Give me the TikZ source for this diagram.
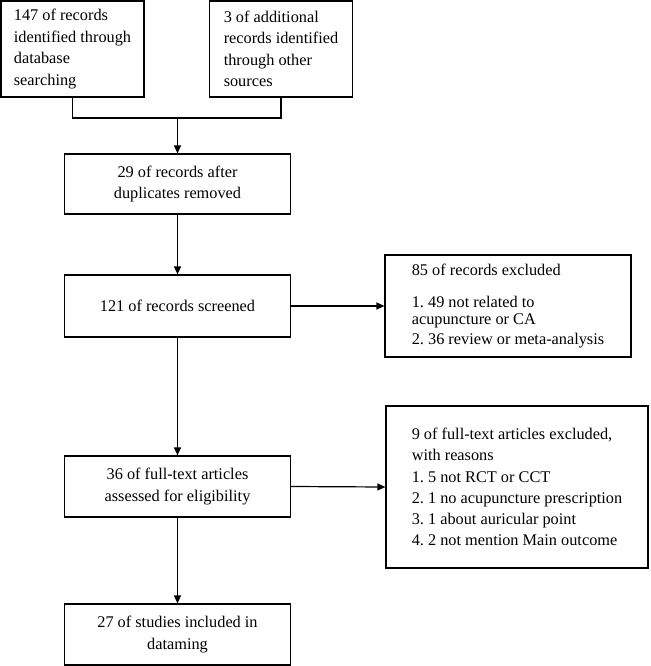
\documentclass[tikz,border=0pt]{standalone}
\usepackage{fontspec}
\setmainfont{Liberation Serif}
\usetikzlibrary{arrows.meta}
\frenchspacing
\begin{document}
\begin{tikzpicture}[x=1pt,y=-1pt,
  box/.style={draw, line width=1.2pt, inner sep=0pt, font=\fontsize{16.3}{21.5}\selectfont},
  lbox/.style={box, align=left},
  cbox/.style={box, align=center, minimum width=226pt},
  arr/.style={line width=1.2pt, -{Triangle[length=8pt,width=7pt]}},
  ln/.style={line width=1.2pt}]
\useasboundingbox (0,0) rectangle (650,666);
\node[lbox, minimum width=143pt, minimum height=96pt] (A) at (72.5,49)
  {147 of records\\identified through\\database\\searching};
\node[lbox, minimum width=143pt, minimum height=96pt] (B) at (281,49)
  {3 of additional\\records identified\\through other\\sources};
\node[cbox, minimum height=60pt] (C) at (177.5,184)
  {29 of records after\\duplicates removed};
\node[cbox, minimum height=62pt] (D) at (177.5,306)
  {121 of records screened};
\node[lbox, minimum width=246pt, minimum height=102pt, font=\fontsize{16.3}{17}\selectfont] (E) at (508,306)
  {85 of records excluded\\[15pt]1. 49 not related to\\acupuncture or CA\\[3pt]2. 36 review or meta-analysis};
\node[cbox, minimum height=61pt] (F) at (177.5,486.5)
  {36 of full-text articles\\assessed for eligibility};
\node[lbox, minimum width=262pt, minimum height=162pt, font=\fontsize{16.3}{21.2}\selectfont] (G) at (517,487)
  {9 of full-text articles excluded,\\with reasons\\1. 5 not RCT or CCT\\2. 1 no acupuncture prescription\\3. 1 about auricular point\\4. 2 not mention Main outcome};
\node[cbox, minimum height=61pt] (H) at (177.5,634.5)
  {27 of studies included in\\dataming};
\coordinate (J) at (177.5,118);
\draw[ln] (A.south) |- (J) -| (B.south);
\draw[arr] (J) -- (C.north);
\draw[arr] (C.south) -- (D.north);
\draw[arr] (D.east) -- (E.west);
\draw[arr] (D.south) -- (F.north);
\draw[arr] (F.east) -- (G.west);
\draw[arr] (F.south) -- (H.north);
\end{tikzpicture}
\end{document}
